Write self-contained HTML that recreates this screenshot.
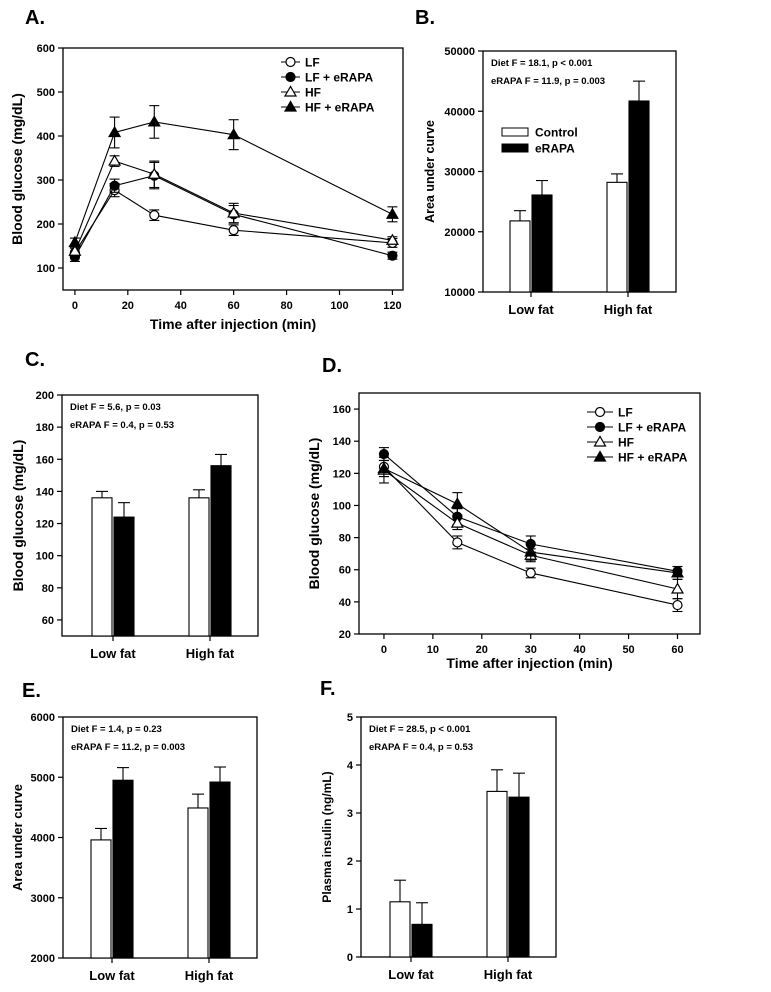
<!DOCTYPE html>
<html><head><meta charset="utf-8"><style>
body{margin:0;background:#fff}
svg{display:block;font-family:"Liberation Sans",Arial,sans-serif;font-weight:bold}
</style></head><body>
<svg id="fig" width="771" height="992" viewBox="0 0 771 992"></svg>
<script>
// Panel A data
const aTimes=[0,15,30,60,120];
const aLF=[135,277,220,186,157], aLFerr=[10,15,12,12,10];
const aLFe=[125,287,310,222,128], aLFeerr=[10,15,30,20,8];
const aHF=[138,343,313,225,163], aHFerr=[10,12,30,22,8];
const aHFe=[158,408,432,403,222], aHFeerr=[10,35,37,34,17];
const aYTicks=[100,200,300,400,500,600];
const aXTicks=[0,20,40,60,80,100,120];
// Panel D data
const dTimes=[0,15,30,60];
const dLF=[124,77,58,38], dLFerr=[6,4,3,4];
const dLFe=[132,93,76,59], dLFeerr=[4,5,5,3];
const dHF=[122,89,69,48], dHFerr=[8,4,4,6];
const dHFe=[123,101,71,58], dHFeerr=[5,7,5,4];
const dYTicks=[20,40,60,80,100,120,140,160];
const dXTicks=[0,10,20,30,40,50,60];
// Bar panels
const groups=["Low fat","High fat"];
const bCtrl=[21800,28200], bCtrlErr=[1700,1400], bE=[26100,41700], bEErr=[2400,3300];
const bYTicks=[10000,20000,30000,40000,50000];
const cCtrl=[136,136], cCtrlErr=[4,5], cE=[124,156], cEErr=[9,7];
const cYTicks=[60,80,100,120,140,160,180,200];
const eCtrl=[3960,4490], eCtrlErr=[190,230], eE=[4950,4920], eEErr=[210,250];
const eYTicks=[2000,3000,4000,5000,6000];
const fCtrl=[1.15,3.45], fCtrlErr=[0.45,0.45], fE=[0.68,3.33], fEErr=[0.45,0.5];
const fYTicks=[0,1,2,3,4,5];
const seriesNames=["LF","LF + eRAPA","HF","HF + eRAPA"];

const NS="http://www.w3.org/2000/svg";
const svg=document.getElementById('fig');
function el(tag,attrs,parent,text){const e=document.createElementNS(NS,tag);for(const k in attrs)e.setAttribute(k,attrs[k]);if(text!==undefined)e.textContent=text;(parent||svg).appendChild(e);return e;}
function scale(d0,d1,r0,r1){return v=>r0+(v-d0)/(d1-d0)*(r1-r0);}

function marker(g,kind,x,y){
  let m;
  if(kind==0||kind==1){m=el('circle',{cx:x,cy:y,r:4.5,fill:kind==0?'#fff':'#000',stroke:'#000','stroke-width':1.2},g);}
  else{m=el('polygon',{points:`${x},${y-5.5} ${x-5.5},${y+4} ${x+5.5},${y+4}`,fill:kind==2?'#fff':'#000',stroke:'#000','stroke-width':1.2},g);}
  
  
}

function panelLabel(t,x,y){const e=el('text',{x:x,y:y,'font-size':20},svg,t);}

function frame(g,L,T,R,B){const r=el('rect',{x:L,y:T,width:R-L,height:B-T,fill:'none',stroke:'#000','stroke-width':1.3},g);}

function yAxis(g,ys,ticks,L,fs,fmt){
  ticks.forEach(t=>{const y=ys(t);el('line',{x1:L-5,x2:L,y1:y,y2:y,stroke:'#000','stroke-width':1.2},g);
    const tx=el('text',{x:L-8,y:y+4,'font-size':fs,'text-anchor':'end'},g,fmt?fmt(t):t);
    });
}
function yTitle(g,t,x,y,fs){const e=el('text',{x:x,y:y,'font-size':fs,'text-anchor':'middle',transform:`rotate(-90 ${x} ${y})`},g,t);}

function linePanel(name,L,T,R,B,xd,yd,times,series,errs,xt,yt,legend,ytitle,ytitleX,xtitleY){
  const g=el('g',{});
  const xs=scale(xd[0],xd[1],L,R), ys=scale(yd[0],yd[1],B,T);
  frame(g,L,T,R,B);
  yAxis(g,ys,yt,L,11);
  xt.forEach(t=>{const x=xs(t);el('line',{x1:x,x2:x,y1:B,y2:B+5,stroke:'#000','stroke-width':1.2},g);
    const tx=el('text',{x:x,y:B+19,'font-size':11,'text-anchor':'middle'},g,t);});
  series.forEach((s,i)=>{
    const sg=el('g',{},g);
    el('polyline',{points:s.map((v,j)=>xs(times[j])+','+ys(v)).join(' '),fill:'none',stroke:'#000','stroke-width':1.1},sg);
    s.forEach((v,j)=>{const x=xs(times[j]),e=errs[i][j];
      el('line',{x1:x,x2:x,y1:ys(v-e),y2:ys(v+e),stroke:'#000','stroke-width':1.1},sg);
      [v-e,v+e].forEach(q=>el('line',{x1:x-5,x2:x+5,y1:ys(q),y2:ys(q),stroke:'#000','stroke-width':1.1},sg));
    });
    s.forEach((v,j)=>marker(sg,i,xs(times[j]),ys(v)));
  });
  const lg=el('g',{},g);
  seriesNames.forEach((n,i)=>{const y=legend.y+i*legend.dy;
    const eg=el('g',{},lg);
    el('line',{x1:legend.x,x2:legend.x+legend.w,y1:y,y2:y,stroke:'#000','stroke-width':1.1},eg);
    marker(eg,i,legend.x+legend.w/2,y);
    el('text',{x:legend.x+legend.w+5,y:y+4.5,'font-size':12},eg,n);});
  yTitle(g,ytitle,ytitleX,(T+B)/2,14);
  const xt2=el('text',{x:(L+R)/2,y:xtitleY,'font-size':14,'text-anchor':'middle'},g,'Time after injection (min)');
  
}

function barPanel(name,L,T,R,B,yd,ctrl,ctrlE,er,erE,yt,centers,ytitle,ytitleX,ytfs,ann,legend){
  const g=el('g',{});
  const ys=scale(yd[0],yd[1],B,T);
  frame(g,L,T,R,B);
  yAxis(g,ys,yt,L,11);
  groups.forEach((gn,i)=>{const c=centers[i];
    el('line',{x1:c,x2:c,y1:B,y2:B+5,stroke:'#000','stroke-width':1.2},g);
    const tx=el('text',{x:c,y:B+22,'font-size':13,'text-anchor':'middle'},g,gn);
    [[ctrl,ctrlE,'#fff',c-21,'bar-control'],[er,erE,'#000',c+1,'bar-erapa']].forEach(([vals,errs,fill,x,nm])=>{
      const v=vals[i],e=errs[i],x0=x+10;
      el('line',{x1:x0,x2:x0,y1:ys(v),y2:ys(v+e),stroke:'#000','stroke-width':1.1},g);
      el('line',{x1:x0-6,x2:x0+6,y1:ys(v+e),y2:ys(v+e),stroke:'#000','stroke-width':1.1},g);
      const r=el('rect',{x:x,y:ys(v),width:20,height:B-ys(v),fill:fill,stroke:'#000','stroke-width':1.1},g);
      
    });
  });
  ann.forEach((a,i)=>{const t=el('text',{x:L+8,y:T+15+i*18,'font-size':9.5},g,a);});
  yTitle(g,ytitle,ytitleX,(T+B)/2,ytfs);
  if(legend){const lg=el('g',{},g);
    [['Control','#fff'],['eRAPA','#000']].forEach(([n,f],i)=>{const y=legend.y+i*16;
      const eg=el('g',{},lg);
      el('rect',{x:legend.x,y:y-4,width:26,height:8,fill:f,stroke:'#000','stroke-width':1},eg);
      el('text',{x:legend.x+33,y:y+4.5,'font-size':12},eg,n);});}
}

panelLabel('A.',25,24);panelLabel('B.',415,24);panelLabel('C.',25,366);panelLabel('D.',322,372);panelLabel('E.',22,697);panelLabel('F.',320,695);

linePanel('panel-a-glucose-tolerance',63,48,403,290,[-4.5,124],[50,600],aTimes,[aLF,aLFe,aHF,aHFe],[aLFerr,aLFeerr,aHFerr,aHFeerr],aXTicks,aYTicks,{x:281,y:62,dy:15,w:19},'Blood glucose (mg/dL)',22,329);
linePanel('panel-d-insulin-tolerance',359,393,700,634,[-5.1,64.6],[20,170],dTimes,[dLF,dLFe,dHF,dHFe],[dLFerr,dLFeerr,dHFerr,dHFeerr],dXTicks,dYTicks,{x:587,y:412,dy:15,w:26},'Blood glucose (mg/dL)',319,668);

barPanel('panel-b-auc',483,51,676,292,[10000,50000],bCtrl,bCtrlErr,bE,bEErr,bYTicks,[531,628],'Area under curve',434,12.5,['Diet F = 18.1, p < 0.001','eRAPA F = 11.9, p = 0.003'],{x:502,y:132});
barPanel('panel-c-fasting-glucose',62,395,258,636,[50,200],cCtrl,cCtrlErr,cE,cEErr,cYTicks,[113,210],'Blood glucose (mg/dL)',23,14,['Diet F = 5.6, p = 0.03','eRAPA F = 0.4, p = 0.53']);
barPanel('panel-e-auc',63,717,257,958,[2000,6000],eCtrl,eCtrlErr,eE,eEErr,eYTicks,[112,209],'Area under curve',22,13,['Diet F = 1.4, p = 0.23','eRAPA F = 11.2, p = 0.003']);
barPanel('panel-f-insulin',361,717,556,957,[0,5],fCtrl,fCtrlErr,fE,fEErr,fYTicks,[411,508],'Plasma insulin (ng/mL)',331,12,['Diet F = 28.5, p < 0.001','eRAPA F = 0.4, p = 0.53']);
</script>
</body></html>
